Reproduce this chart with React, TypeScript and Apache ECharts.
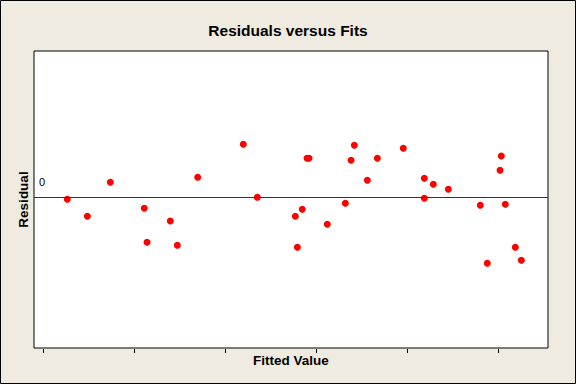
import React, { useEffect, useRef } from "react";
import * as echarts from "echarts";

// Fitted values (axis units: tick spacing = 1) and residuals
const fitted: number[] = [
  0.267, 0.487, 0.74, 1.113, 1.143, 1.399, 1.476, 1.7, 2.201, 2.355,
  2.773, 2.849, 2.795, 2.901, 2.923, 3.124, 3.322, 3.385, 3.421, 3.564,
  3.674, 3.959, 4.19, 4.19, 4.289, 4.454, 4.805, 4.882, 5.036, 5.022,
  5.08, 5.19, 5.256,
];
const residuals: number[] = [
  -0.023, -0.193, 0.147, -0.113, -0.453, -0.24, -0.483, 0.197, 0.527, -0.003,
  -0.193, -0.123, -0.503, 0.387, 0.387, -0.273, -0.063, 0.367, 0.517, 0.167,
  0.387, 0.487, 0.187, -0.013, 0.127, 0.077, -0.083, -0.663, 0.41, 0.267,
  -0.073, -0.503, -0.633,
];
const xTicks: number[] = [0, 1, 2, 3, 4, 5];
const zeroLabel = "0";

export default function App() {
  const ref = useRef<HTMLDivElement>(null);
  useEffect(() => {
    document.body.style.margin = "0";
    if (!ref.current) return;
    const chart = echarts.init(ref.current, undefined, { renderer: "svg" });
    const font = "'Liberation Sans', Arial, sans-serif";
    chart.setOption({
      animation: false,
      backgroundColor: "#EFEBE1",
      title: {
        text: "Residuals versus Fits",
        left: "center",
        top: 17,
        textStyle: { fontFamily: font, fontWeight: "bold", fontSize: 15.5, color: "#000" },
      },
      graphic: [
        {
          type: "rect",
          shape: { x: 0.5, y: 0.5, width: 575, height: 383 },
          style: { fill: "none", stroke: "#000", lineWidth: 1 },
          silent: true,
        },
      ],
      grid: {
        left: 34,
        right: 28,
        top: 51,
        bottom: 36,
        show: true,
        backgroundColor: "#fff",
        borderColor: "#000",
        borderWidth: 1,
      },
      xAxis: {
        type: "value",
        min: -0.099,
        max: 5.549,
        offset: 1,
        name: "Fitted Value",
        nameLocation: "middle",
        nameGap: 4,
        nameTextStyle: { fontFamily: font, fontWeight: "bold", fontSize: 13.5, color: "#000" },
        axisLine: { show: false, onZero: false },
        axisTick: { show: true, customValues: xTicks, length: 4, lineStyle: { color: "#000" } },
        axisLabel: { show: false },
        splitLine: { show: false },
      },
      yAxis: {
        type: "value",
        min: -1.51,
        max: 1.46,
        name: "Residual",
        nameLocation: "middle",
        nameGap: 4,
        nameTextStyle: { fontFamily: font, fontWeight: "bold", fontSize: 13.5, color: "#000" },
        axisLine: { show: false, onZero: false },
        axisTick: { show: false },
        axisLabel: { show: false },
        splitLine: { show: false },
      },
      series: [
        {
          type: "scatter",
          data: fitted.map((x, i) => [x, residuals[i]]),
          symbol: "circle",
          symbolSize: 7,
          itemStyle: { color: "#FF0000", opacity: 1 },
          markLine: {
            silent: true,
            symbol: "none",
            lineStyle: { color: "#333", width: 1, type: "solid" },
            label: {
              show: true,
              position: "insideStartTop",
              formatter: zeroLabel,
              fontFamily: font,
              fontSize: 11,
              color: "#000",
              distance: [5, 10],
            },
            data: [{ yAxis: 0 }],
          },
        },
      ],
    });
    return () => chart.dispose();
  }, []);
  return <div ref={ref} style={{ width: 576, height: 384 }} />;
}
